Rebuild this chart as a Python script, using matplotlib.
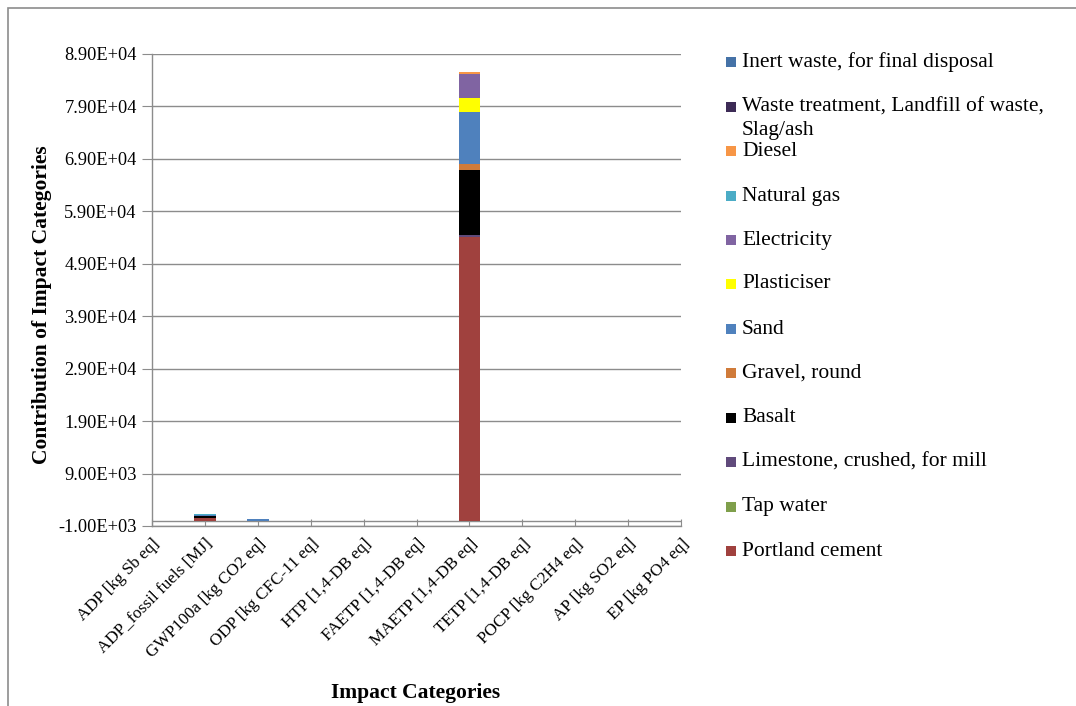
import matplotlib
matplotlib.use("Agg")
import matplotlib.pyplot as plt
from matplotlib.patches import Rectangle
import numpy as np

plt.rcParams['font.family'] = ['Liberation Serif', 'DejaVu Serif']

categories = ["ADP [kg Sb eq]", "ADP_fossil fuels [MJ]", "GWP100a [kg CO2 eq]",
              "ODP [kg CFC-11 eq]", "HTP [1,4-DB eq]", "FAETP [1,4-DB eq]",
              "MAETP [1,4-DB eq]", "TETP [1,4-DB eq]", "POCP [kg C2H4 eq]",
              "AP [kg SO2 eq]", "EP [kg PO4 eq]"]

# stacking order, bottom to top
series_names = ["Portland cement", "Tap water", "Limestone, crushed, for mill", "Basalt",
                "Gravel, round", "Sand", "Plasticiser", "Electricity", "Natural gas",
                "Diesel", "Waste treatment, Landfill of waste,\nSlag/ash",
                "Inert waste, for final disposal"]
series_colors = ["#A0413E", "#7F9F4B", "#604A7B", "#000000", "#D07B3A", "#4F81BD",
                 "#FFFF00", "#8064A2", "#4BACC6", "#F79646", "#3D2B56", "#4572A7"]

portland_cement = [0.02, 560, 0, 0, 0, 0, 54100, 0, 0, 0, 0]
tap_water       = [0, 5, 0, 0, 0, 0, 100, 0, 0, 0, 0]
limestone       = [0, 30, 0, 0, 0, 0, 200, 0, 0, 0, 0]
basalt          = [0, 250, 0, 0, 0, 0, 12400, 0, 0, 0, 0]
gravel          = [0, 40, 0, 0, 0, 0, 1300, 0, 0, 0, 0]
sand            = [0, 200, 300, 0, 0, 0, 9850, 0, 0, 0, 0]
plasticiser     = [0, 20, 0, 0, 0, 0, 2700, 0, 0, 0, 0]
electricity     = [0, 60, 0, 0, 0, 0, 4550, 0, 0, 0, 0]
natural_gas     = [0, 120, 0, 0, 0, 0, 30, 0, 0, 0, 0]
diesel          = [0, 40, 0, 0, 0, 0, 250, 0, 0, 0, 0]
waste_treatment = [0, 5, 0, 0, 0, 0, 30, 0, 0, 0, 0]
inert_waste     = [0, 10, 0, 0, 0, 0, 150, 0, 0, 0, 0]

series_values = [portland_cement, tap_water, limestone, basalt, gravel, sand,
                 plasticiser, electricity, natural_gas, diesel, waste_treatment,
                 inert_waste]

y_ticks = [-1000, 9000, 19000, 29000, 39000, 49000, 59000, 69000, 79000, 89000]
y_tick_labels = ["-1.00E+03", "9.00E+03", "1.90E+04", "2.90E+04", "3.90E+04",
                 "4.90E+04", "5.90E+04", "6.90E+04", "7.90E+04", "8.90E+04"]

W, H = 1076, 706
fig = plt.figure(figsize=(W / 100, H / 100), dpi=100)
fig.patch.set_facecolor("white")

# outer chart frame
fig.patches.append(Rectangle((8 / W, -0.1), 1.2, (H - 8) / H + 0.1,
                             transform=fig.transFigure, fill=False,
                             edgecolor="#8C8C8C", linewidth=1.2))

ax = fig.add_axes([152 / W, (H - 526) / H, (681 - 152) / W, (526 - 54) / H])
x = np.arange(len(categories))
bottom = np.zeros(len(categories))
for name, vals, col in zip(series_names, series_values, series_colors):
    v = np.array(vals, dtype=float)
    ax.bar(x, v, width=0.41, bottom=bottom, color=col, zorder=3, label=name)
    bottom += v

ax.set_xlim(0, len(categories) - 1)
ax.set_ylim(-1000, 89000)
ax.set_yticks(y_ticks)
ax.set_yticklabels(y_tick_labels, fontsize=13.2)
ax.yaxis.grid(True, color="#8C8C8C", linewidth=1.0, zorder=0)
ax.axhline(0, color="#8C8C8C", linewidth=1.0, zorder=2)
ax.set_xticks(x)
ax.set_xticklabels(categories, rotation=45, ha="right", rotation_mode="anchor",
                   fontsize=12.3)
ax.tick_params(axis="x", direction="in", length=5, color="#8C8C8C", pad=7)
ax.tick_params(axis="y", direction="out", length=7, color="#8C8C8C", pad=4)
for side in ["top", "right"]:
    ax.spines[side].set_visible(False)
for side in ["left", "bottom"]:
    ax.spines[side].set_color("#8C8C8C")
    ax.spines[side].set_linewidth(1.0)

fig.text(42 / W, 1 - 305 / H, "Contribution of Impact Categories", rotation=90,
         ha="center", va="center", fontsize=15.5, fontweight="bold")
fig.text(416 / W, 1 - 693 / H, "Impact Categories", ha="center", va="center",
         fontsize=15.5, fontweight="bold")

# legend, top entry first
legend_y = [62, 107, 151, 196, 240, 284, 329, 373, 418, 462, 507, 551]
for i, (name, col) in enumerate(zip(series_names[::-1], series_colors[::-1])):
    yc = legend_y[i]
    fig.patches.append(Rectangle((726 / W, 1 - (yc + 5) / H), 10 / W, 10 / H,
                                 transform=fig.transFigure, facecolor=col,
                                 edgecolor="none"))
    for k, line in enumerate(name.split("\n")):
        fig.text(742 / W, 1 - (yc + 24 * k) / H, line, ha="left", va="center",
                 fontsize=15.5)

fig.savefig("out.png", dpi=100, facecolor="white")
